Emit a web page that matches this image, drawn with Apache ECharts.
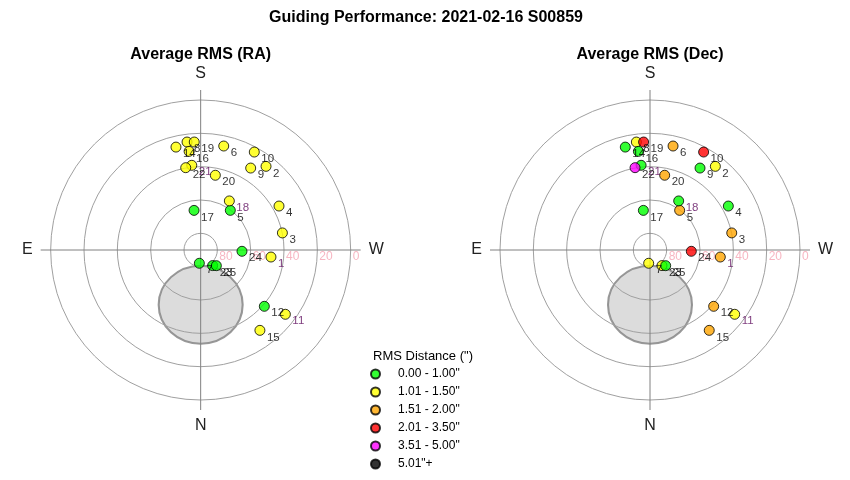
<!DOCTYPE html>
<html><head><meta charset="utf-8">
<script src="https://cdn.jsdelivr.net/npm/echarts@6/dist/echarts.min.js"></script>
<style>html,body{margin:0;padding:0;background:#fff}#c{width:850px;height:480px}</style>
</head><body><div id="c"></div>
<script>
// ---- data ----
const pointIds    = [1, 2, 3, 4, 5, 6, 7, 8, 9, 10, 11, 12, 14, 15, 16, 17, 18, 19, 20, 21, 22, 23, 24, 25];
const azimuth     = [275.7, 218.0, 258.2, 240.7, 216.8, 192.5, 5.7, 172.8, 211.4, 208.7, 307.2, 311.5, 166.5, 323.6, 173.3, 170.5, 210.3, 176.6, 191.1, 174.0, 169.7, 322.5, 271.8, 315.0];
const altitude    = [47.6, 26.3, 39.9, 36.1, 60.3, 26.1, 82.0, 24.7, 32.4, 23.0, 26.2, 39.0, 26.5, 30.1, 30.4, 65.9, 55.9, 25.1, 44.3, 38.9, 39.8, 78.2, 65.2, 76.7];
// RMS class index (0..5) per point
const raCategory  = [1, 1, 1, 1, 0, 1, 0, 1, 1, 1, 1, 0, 1, 1, 1, 0, 1, 1, 1, 1, 1, 0, 0, 0];
const decCategory = [2, 1, 2, 0, 2, 2, 1, 1, 0, 3, 1, 2, 0, 2, 0, 0, 0, 3, 2, 0, 4, 1, 3, 0];
const purpleLabelIds = [1, 11, 18, 21];

const categoryNames  = ['0.00 - 1.00"', '1.01 - 1.50"', '1.51 - 2.00"', '2.01 - 3.50"', '3.51 - 5.00"', '5.01"+'];
const categoryColors = ['#00ff00', '#ffff00', '#ffa500', '#ff0000', '#ff00ff', '#000000'];

const altitudeRings = [80, 60, 40, 20, 0];
const compassPoints = [{az: 0, label: 'N'}, {az: 90, label: 'E'}, {az: 180, label: 'S'}, {az: 270, label: 'W'}];

// grey zone (centre alt/az)
const zoneAz = [0];
const zoneAlt = [57.2];

const panelTitles = ['Average RMS (RA)', 'Average RMS (Dec)'];
const mainTitle = 'Guiding Performance: 2021-02-16 S00859';
const legendTitle = 'RMS Distance (")';

// ---- helpers ----
const FONT = "'Liberation Sans', Arial, sans-serif";
const toAngle = az => (az + 90) % 360;      // W on the right, N at bottom, clockwise
const toRadius = alt => 90 - alt;           // zenith at centre

const centers = [[200.67, 250], [650, 250]];
const catsPerPanel = [raCategory, decCategory];

const polar = centers.map(c => ({center: c, radius: 160}));
const angleAxis = centers.map((c, p) => ({
  polarIndex: p, type: 'value', min: 0, max: 360, interval: 90,
  startAngle: 0, clockwise: true, z: 2,
  axisLine: {show: false}, axisTick: {show: false},
  axisLabel: {
    margin: 8, fontSize: 16, color: '#222', fontFamily: FONT,
    formatter: v => { const f = compassPoints.find(cp => toAngle(cp.az) === v && v !== 360); return f ? f.label : ''; }
  },
  splitLine: {show: true, lineStyle: {color: '#808080', width: 1}}
}));
const radiusAxis = centers.map((c, p) => ({
  polarIndex: p, type: 'value', min: 0, max: 96, interval: 10, z: 2,
  axisLine: {show: false}, axisTick: {show: false},
  axisLabel: {
    show: true, margin: -1, align: 'left', verticalAlign: 'top', padding: [0, 0, 0, 2],
    fontSize: 12, color: '#f7b6c2', fontFamily: FONT,
    formatter: v => { const a = 90 - v; return altitudeRings.includes(a) ? String(a) : ''; }
  },
  splitLine: {show: true, lineStyle: {color: ['transparent', '#a0a0a0'], width: 1}}
}));

const series = [];
centers.forEach((c, p) => {
  series.push({
    type: 'scatter', coordinateSystem: 'polar', polarIndex: p, name: 'zone' + p,
    z: 1, silent: true, symbol: 'circle', symbolSize: [84, 78],
    itemStyle: {color: '#d3d3d3', borderColor: '#808080', borderWidth: 2},
    data: zoneAz.map((az, i) => [toRadius(zoneAlt[i]), toAngle(az)])
  });
  const cats = catsPerPanel[p];
  series.push({
    type: 'scatter', coordinateSystem: 'polar', polarIndex: p, name: 'points' + p,
    z: 5, symbol: 'circle', symbolSize: 10,
    itemStyle: {borderColor: '#000', borderWidth: 1},
    label: {show: true, formatter: '{b}', position: 'right', distance: 1.5, offset: [0, 7],
            fontSize: 11.5, color: '#000', fontFamily: FONT},
    emphasis: {disabled: true},
    data: pointIds.map((id, i) => ({
      name: String(id),
      value: [toRadius(altitude[i]), toAngle(azimuth[i])],
      itemStyle: {color: categoryColors[cats[i]]},
      label: purpleLabelIds.includes(id) ? {color: '#5c0a5c'} : undefined
    }))
  });
});
categoryNames.forEach((n, k) => {
  series.push({
    type: 'scatter', coordinateSystem: 'polar', polarIndex: 0, name: n, data: [],
    itemStyle: {color: categoryColors[k], borderColor: '#000', borderWidth: 1}
  });
});

const chart = echarts.init(document.getElementById('c'));
chart.setOption({
  animation: false,
  backgroundColor: '#fff',
  title: [
    {text: mainTitle, left: 426, top: 10, textAlign: 'center', padding: 0,
     textStyle: {fontSize: 16, fontWeight: 'bold', color: '#000', fontFamily: FONT}},
    {text: panelTitles[0], left: centers[0][0], top: 47, textAlign: 'center', padding: 0,
     textStyle: {fontSize: 16, fontWeight: 'bold', color: '#000', fontFamily: FONT}},
    {text: panelTitles[1], left: centers[1][0], top: 47, textAlign: 'center', padding: 0,
     textStyle: {fontSize: 16, fontWeight: 'bold', color: '#000', fontFamily: FONT}},
    {text: legendTitle, left: 373, top: 350, padding: 0,
     textStyle: {fontSize: 13, fontWeight: 'normal', color: '#000', fontFamily: FONT}}
  ],
  legend: {
    data: categoryNames, orient: 'vertical', left: 370, top: 368, padding: 0,
    itemWidth: 35, itemHeight: 9, itemGap: 6, icon: 'circle', selectedMode: false,
    textStyle: {fontSize: 12, color: '#000', fontFamily: FONT}
  },
  polar, angleAxis, radiusAxis, series
});
</script></body></html>
